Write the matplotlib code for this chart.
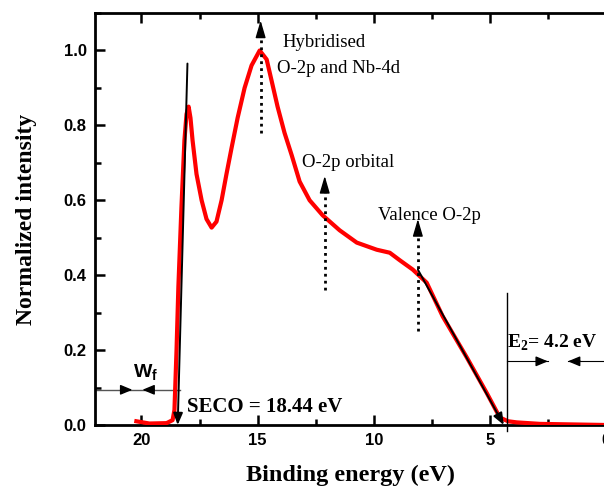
import matplotlib.pyplot as plt
from matplotlib.ticker import MultipleLocator

plt.rcParams['mathtext.fontset'] = 'custom'
plt.rcParams['mathtext.bf'] = 'Liberation Serif:bold'
plt.rcParams['mathtext.sf'] = 'Liberation Sans:bold'

# spectrum (binding energy in eV, normalized intensity)
energy = [20.22, 19.66, 18.92, 18.66, 18.58, 18.49, 18.41, 18.28, 18.15, 18.06,
          17.97, 17.89, 17.80, 17.63, 17.41, 17.20, 16.98, 16.77, 16.55, 16.34,
          16.12, 15.86, 15.56, 15.26, 14.91, 14.61, 14.40, 14.14, 13.84, 13.53,
          13.19, 12.76, 12.20, 11.47, 10.73, 9.87, 9.31, 8.88, 8.32, 7.72,
          7.03, 5.99, 5.13, 4.57, 4.22, 3.84, 2.84, 0.0]
intensity = [0.010, 0.004, 0.005, 0.013, 0.040, 0.200, 0.370, 0.580, 0.760, 0.830,
             0.850, 0.820, 0.760, 0.670, 0.600, 0.550, 0.527, 0.543, 0.600, 0.670,
             0.740, 0.820, 0.900, 0.960, 1.000, 0.976, 0.920, 0.850, 0.780, 0.720,
             0.650, 0.600, 0.560, 0.520, 0.487, 0.468, 0.460, 0.440, 0.415, 0.380,
             0.290, 0.180, 0.085, 0.020, 0.010, 0.007, 0.003, 0.000]

# tangent lines (x0, y0, x1, y1)
seco_fit = [18.02, 0.965, 18.44, 0.0]
vb_fit = [8.10, 0.415, 4.40, 0.0]

# feature markers: x, bottom, tip
markers = [(14.87, 0.78, 1.08), (12.11, 0.36, 0.665), (8.10, 0.25, 0.55)]

fig = plt.figure(figsize=(6.04, 4.91), dpi=100)
ax = fig.add_axes([0.1573, 0.1344, 0.846, 0.8391])

ax.plot(energy, intensity, color='red', lw=3, zorder=3)

ax.set_xlim(22, 0)
ax.set_ylim(0, 1.1)

# tangent lines with arrow tips
for x0, y0, x1, y1 in [seco_fit, vb_fit]:
    ax.annotate('', xy=(x1, y1), xytext=(x0, y0),
                arrowprops=dict(arrowstyle='-|>,head_length=0.5,head_width=0.2',
                                color='k', lw=1.4, mutation_scale=14,
                                shrinkA=0, shrinkB=0), zorder=4)

# dotted arrows
for x, lo, hi in markers:
    ax.plot([x, x], [lo, hi - 0.035], color='k', lw=2, ls=(0, (1, 1.5)), zorder=4)
    ax.annotate('', xy=(x, hi), xytext=(x, hi - 0.04),
                arrowprops=dict(arrowstyle='-|>,head_length=0.75,head_width=0.22',
                                color='k', lw=1, mutation_scale=14,
                                shrinkA=0, shrinkB=0), zorder=4)

serif = 'Liberation Serif'
ax.text(13.92, 1.008, 'Hybridised', family=serif, fontsize=13.5)
ax.text(14.18, 0.941, 'O-2p and Nb-4d', family=serif, fontsize=13.5)
ax.text(13.10, 0.69, 'O-2p orbital', family=serif, fontsize=13.5)
ax.text(9.83, 0.548, 'Valence O-2p', family=serif, fontsize=13.5)
ax.text(18.06, 0.035, 'SECO = 18.44 eV', family=serif, fontsize=15, fontweight='bold')
ax.text(4.27, 0.206, r'E$_\mathbf{2}$= 4.2 eV', family=serif, fontsize=14, fontweight='bold')

# work-function marker
wf_y = 0.094
ax.plot([22, 18.36], [wf_y, wf_y], color='#555555', lw=1, zorder=2)
ax.annotate('', xy=(20.39, wf_y), xytext=(20.9, wf_y),
            arrowprops=dict(arrowstyle='-|>,head_length=0.6,head_width=0.25',
                            color='k', lw=1, mutation_scale=12, shrinkA=0, shrinkB=0))
ax.annotate('', xy=(19.96, wf_y), xytext=(19.45, wf_y),
            arrowprops=dict(arrowstyle='-|>,head_length=0.6,head_width=0.25',
                            color='k', lw=1, mutation_scale=12, shrinkA=0, shrinkB=0))
ax.text(19.8, 0.125, r'W$_\mathsf{f}$', family='Liberation Sans', fontsize=14,
        fontweight='bold', ha='center')

# E2 marker
ax.plot([4.27, 4.27], [0.353, -0.015], color='k', lw=1, clip_on=False, zorder=4)
e2_y = 0.17
ax.plot([4.27, 2.5], [e2_y, e2_y], color='k', lw=0.8)
ax.annotate('', xy=(2.5, e2_y), xytext=(3.0, e2_y),
            arrowprops=dict(arrowstyle='-|>,head_length=0.6,head_width=0.25',
                            color='k', lw=1, mutation_scale=12, shrinkA=0, shrinkB=0))
ax.plot([1.64, 0], [e2_y, e2_y], color='k', lw=0.8)
ax.annotate('', xy=(1.64, e2_y), xytext=(1.1, e2_y),
            arrowprops=dict(arrowstyle='-|>,head_length=0.6,head_width=0.25',
                            color='k', lw=1, mutation_scale=12, shrinkA=0, shrinkB=0))

# axes styling
for s in ax.spines.values():
    s.set_linewidth(2)
ax.xaxis.set_major_locator(MultipleLocator(5))
ax.xaxis.set_minor_locator(MultipleLocator(2.5))
ax.yaxis.set_major_locator(MultipleLocator(0.2))
ax.yaxis.set_minor_locator(MultipleLocator(0.1))
ax.tick_params(which='both', direction='in', top=True, right=False, width=1.8)
ax.tick_params(which='major', length=7, labelsize=12, pad=6)
ax.tick_params(which='minor', length=4)
ax.yaxis.set_major_formatter(plt.FuncFormatter(lambda v, p: f'{v:.1f}'))
for lab in ax.get_xticklabels() + ax.get_yticklabels():
    lab.set_fontfamily('Liberation Sans')
    lab.set_fontweight('bold')

ax.set_xlabel('Binding energy (eV)', family=serif, fontsize=17.5, fontweight='bold', labelpad=12)
ax.set_ylabel('Normalized intensity', family=serif, fontsize=17, fontweight='bold', labelpad=19)

fig.savefig('out.png', dpi=100)
